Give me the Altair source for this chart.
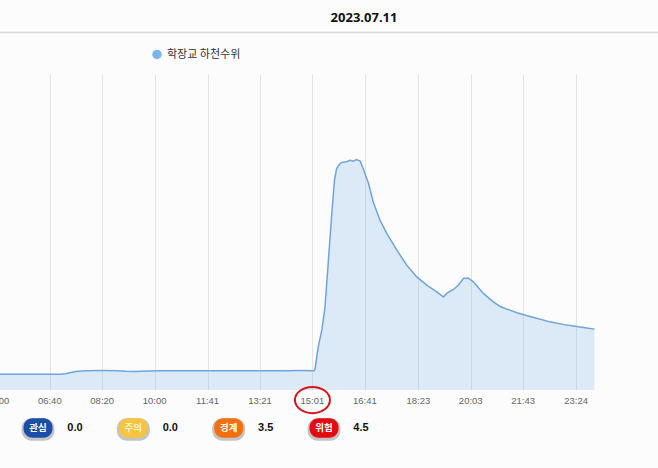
import altair as alt
import pandas as pd

# ---------------- data ----------------
title_text = "2023.07.11"
series_name = "학장교 하천수위"

minutes = [0, 305, 420, 430, 440, 450, 460, 470, 500, 530, 545, 560, 575, 590, 610, 650,
           700, 750, 800, 850, 880, 904, 906, 912, 919, 925, 931, 938, 943, 947, 952, 957,
           962, 967, 973, 979, 985, 992, 998, 1003, 1008, 1017, 1030, 1043, 1062, 1081,
           1100, 1119, 1138, 1151, 1157, 1170, 1179, 1189, 1198, 1208, 1227, 1246, 1259,
           1291, 1323, 1354, 1386, 1418, 1439]
levels = [0.149, 0.149, 0.149, 0.155, 0.166, 0.175, 0.180, 0.183, 0.184, 0.183, 0.178,
          0.176, 0.179, 0.181, 0.183, 0.183, 0.183, 0.183, 0.183, 0.183, 0.184, 0.183,
          0.20, 0.41, 0.57, 0.79, 1.20, 1.68, 1.99, 2.10, 2.14, 2.16, 2.165, 2.17, 2.18,
          2.173, 2.187, 2.173, 2.10, 2.03, 1.96, 1.785, 1.61, 1.485, 1.327, 1.185, 1.074,
          0.995, 0.932, 0.884, 0.917, 0.954, 0.995, 1.059, 1.064, 1.027, 0.917, 0.837,
          0.793, 0.733, 0.689, 0.647, 0.616, 0.594, 0.578]

tick_minutes = [300, 400, 500, 600, 701, 801, 901, 1001, 1103, 1203, 1303, 1404]
tick_labels = ["05:00", "06:40", "08:20", "10:00", "11:41", "13:21", "15:01",
               "16:41", "18:23", "20:03", "21:43", "23:24"]
highlight_label = "15:01"

y_ticks = [0, 1, 2, 3]

badge_labels = ["관심", "주의", "경계", "위험"]
badge_values = ["0.0", "0.0", "3.5", "4.5"]
badge_colors = ["#1b4ea6", "#f5c443", "#f2700f", "#e20b12"]
badge_text_colors = ["#ffffff", "#fff3c8", "#ffffff", "#ffffff"]

# ---------------- layout ----------------
W, H = 595, 316
PAD = {"left": 0, "top": 74, "right": 63, "bottom": 78}

df = pd.DataFrame({"minute": minutes, "level": levels})
df_ticks = pd.DataFrame({"minute": tick_minutes, "label": tick_labels})
df_hl = df_ticks[df_ticks["label"] == highlight_label]
df_badges = pd.DataFrame({"badge": badge_labels, "value": badge_values,
                          "tcolor": badge_text_colors})

xscale = alt.Scale(domain=[305, 1440], nice=False, zero=False)
yscale = alt.Scale(domain=[0, 3], nice=False, zero=True)

area = alt.Chart(df).mark_area(color="#7cb5ec", opacity=0.25, clip=True).encode(
    x=alt.X("minute:Q", scale=xscale,
            axis=alt.Axis(values=tick_minutes, grid=True, gridColor="#e4e4e4",
                          gridWidth=1, labels=False, ticks=False, domain=False,
                          title=None)),
    y=alt.Y("level:Q", scale=yscale,
            axis=alt.Axis(values=y_ticks, grid=True, gridColor="#e4e4e4",
                          gridWidth=1, labels=False, ticks=False, domain=False,
                          title=None)),
)
line = alt.Chart(df).mark_line(color="#6fa5da", strokeWidth=1.5, clip=True).encode(
    x=alt.X("minute:Q", scale=xscale, axis=None),
    y=alt.Y("level:Q", scale=yscale, axis=None),
)

tick_text = alt.Chart(df_ticks).mark_text(
    fontSize=9.5, color="#666666", font="Liberation Sans", baseline="middle"
).encode(
    x=alt.X("minute:Q", scale=xscale, axis=None),
    y=alt.value(H + 11),
    text="label:N",
)

ellipse_path = "M -1 0 A 1 0.75 0 1 1 1 0 A 1 0.75 0 1 1 -1 0 Z"
highlight = alt.Chart(df_hl).mark_point(
    shape=ellipse_path, size=35 * 35, filled=False, stroke="#d8131c",
    strokeWidth=2, opacity=1
).encode(
    x=alt.X("minute:Q", scale=xscale, axis=None),
    y=alt.value(H + 10),
)

rrect = ("M -0.38 -0.68 H 0.38 A 0.62 0.62 0 0 1 1 -0.06 V 0.06 "
         "A 0.62 0.62 0 0 1 0.38 0.68 H -0.38 A 0.62 0.62 0 0 1 -1 0.06 "
         "V -0.06 A 0.62 0.62 0 0 1 -0.38 -0.68 Z")
bx = alt.X("badge:N", scale=alt.Scale(type="point", domain=badge_labels,
                                        range=[38, 324], padding=0), axis=None)
BY = 354
badge_shadow = alt.Chart(df_badges).mark_point(
    shape=rrect, size=33 * 33, filled=True, color="#000000", opacity=0.22
).encode(x=bx, y=alt.value(BY + 1.5))
badge_box = alt.Chart(df_badges).mark_point(
    shape=rrect, size=29 * 29, filled=True, opacity=1
).encode(
    x=bx, y=alt.value(BY),
    color=alt.Color("badge:N", scale=alt.Scale(domain=badge_labels, range=badge_colors),
                    legend=None),
)
badge_text = alt.Chart(df_badges).mark_text(
    fontSize=9.5, fontWeight="bold", font="Noto Sans CJK KR", baseline="middle"
).encode(x=bx, y=alt.value(BY), text="badge:N",
         color=alt.Color("tcolor:N", scale=None))
badge_val = alt.Chart(df_badges).mark_text(
    fontSize=11, fontWeight="bold", font="Liberation Sans", color="#111111",
    baseline="middle", dx=37
).encode(x=bx, y=alt.value(BY), text="value:N")

title = alt.Chart(pd.DataFrame({"t": [title_text]})).mark_text(
    fontSize=13, fontWeight="bold", font="Noto Sans", color="#111111", baseline="middle"
).encode(x=alt.value(364), y=alt.value(18 - PAD["top"]), text="t:N")

sep = alt.Chart(pd.DataFrame({"a": [0]})).mark_rule(
    color="#d9d9d9", strokeWidth=1.5
).encode(x=alt.value(0), x2=alt.value(658), y=alt.value(32.5 - PAD["top"]))

legend_dot = alt.Chart(pd.DataFrame({"s": [series_name]})).mark_point(
    shape="circle", size=90, filled=True, color="#7cb5ec", opacity=1
).encode(x=alt.value(157), y=alt.value(54.5 - PAD["top"]))
legend_text = alt.Chart(pd.DataFrame({"s": [series_name]})).mark_text(
    fontSize=11, font="Noto Sans CJK KR", color="#333333", align="left",
    baseline="middle"
).encode(x=alt.value(167), y=alt.value(55 - PAD["top"]), text="s:N")

chart = alt.layer(
    area, line, tick_text, highlight, badge_shadow, badge_box, badge_text, badge_val,
    title, sep, legend_dot, legend_text
).resolve_scale(x="independent", color="independent").properties(
    width=W, height=H,
    autosize=alt.AutoSizeParams(type="none"),
    padding=PAD,
    background="#fcfcfc",
).configure_view(stroke=None)

chart.save("out.html", embed_options={"renderer": "svg", "actions": False})
